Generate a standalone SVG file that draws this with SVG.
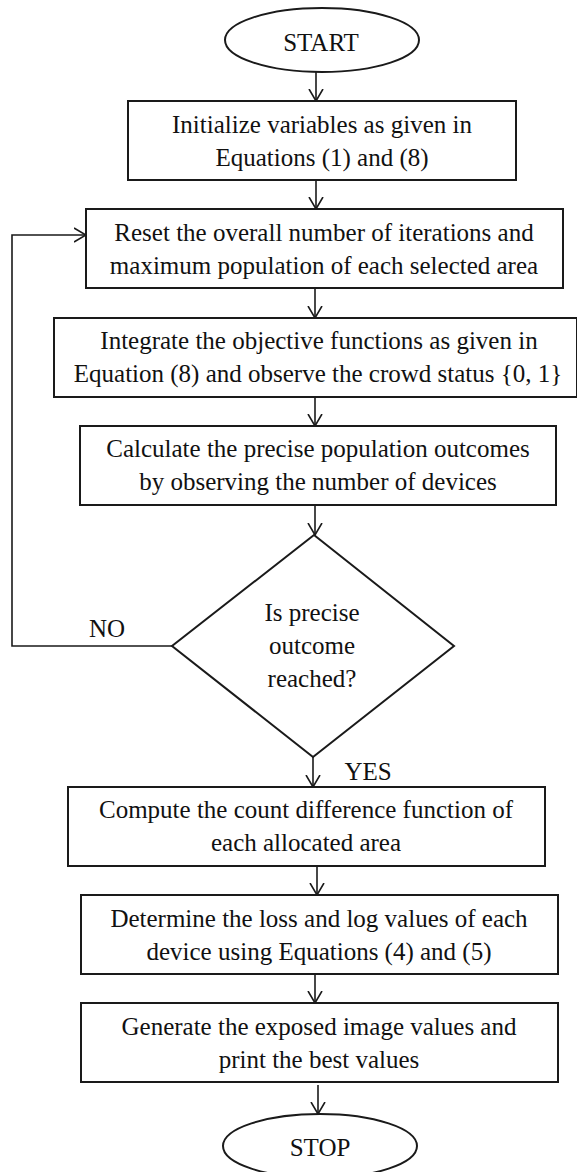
<svg xmlns="http://www.w3.org/2000/svg" width="577" height="1172" viewBox="0 0 577 1172">
<style>
.shape{fill:#fff;stroke:#1a1a1a;stroke-width:2}
.conn{fill:none;stroke:#1a1a1a;stroke-width:1.6}
text{font-family:"Liberation Serif","Times New Roman",serif;font-size:25px;fill:#111;text-anchor:middle}
</style>
<defs>
<marker id="arr" markerUnits="userSpaceOnUse" viewBox="0 0 13 16" refX="12" refY="8" markerWidth="13" markerHeight="16" orient="auto">
<path d="M0,1 L12,8 L0,15" fill="none" stroke="#1a1a1a" stroke-width="1.6"/>
</marker>
</defs>
<rect width="577" height="1172" fill="#fff"/>
<g id="connectors">
<line class="conn" x1="316" y1="72" x2="316" y2="101" marker-end="url(#arr)"/>
<line class="conn" x1="316" y1="180" x2="316" y2="209" marker-end="url(#arr)"/>
<line class="conn" x1="315" y1="288" x2="315" y2="318" marker-end="url(#arr)"/>
<line class="conn" x1="315" y1="397" x2="315" y2="426" marker-end="url(#arr)"/>
<line class="conn" x1="315" y1="505" x2="315" y2="535" marker-end="url(#arr)"/>
<polyline class="conn" points="172,646 12,646 12,235 86,235" marker-end="url(#arr)"/>
<line class="conn" x1="313" y1="757" x2="313" y2="787" marker-end="url(#arr)"/>
<line class="conn" x1="317" y1="866" x2="317" y2="895" marker-end="url(#arr)"/>
<line class="conn" x1="315" y1="974" x2="315" y2="1003" marker-end="url(#arr)"/>
<line class="conn" x1="318" y1="1085" x2="318" y2="1114" marker-end="url(#arr)"/>
<text x="107" y="637">NO</text>
<text x="368" y="780">YES</text>
</g>
<g id="start">
<ellipse class="shape" cx="322" cy="40" rx="97" ry="32"/>
<text x="321" y="51">START</text>
</g>
<g id="init">
<rect class="shape" x="128" y="101" width="388" height="79"/>
<text x="322" y="133">Initialize variables as given in</text>
<text x="322" y="166">Equations (1) and (8)</text>
</g>
<g id="reset">
<rect class="shape" x="86" y="209" width="477" height="79"/>
<text x="324" y="241">Reset the overall number of iterations and</text>
<text x="324" y="274">maximum population of each selected area</text>
</g>
<g id="integrate">
<rect class="shape" x="54" y="318" width="523" height="79"/>
<text x="319" y="349">Integrate the objective functions as given in</text>
<text x="318" y="382">Equation (8) and observe the crowd status {0, 1}</text>
</g>
<g id="calculate">
<rect class="shape" x="80" y="426" width="476" height="79"/>
<text x="318" y="457">Calculate the precise population outcomes</text>
<text x="318" y="490">by observing the number of devices</text>
</g>
<g id="decision">
<polygon class="shape" points="314,535 454,646 313,757 172,646"/>
<text x="312" y="621">Is precise</text>
<text x="312" y="654">outcome</text>
<text x="312" y="687">reached?</text>
</g>
<g id="compute">
<rect class="shape" x="68" y="787" width="477" height="79"/>
<text x="306" y="818">Compute the count difference function of</text>
<text x="306" y="851">each allocated area</text>
</g>
<g id="determine">
<rect class="shape" x="81" y="895" width="477" height="79"/>
<text x="319" y="927">Determine the loss and log values of each</text>
<text x="319" y="960">device using Equations (4) and (5)</text>
</g>
<g id="generate">
<rect class="shape" x="81" y="1003" width="477" height="79"/>
<text x="319" y="1035">Generate the exposed image values and</text>
<text x="319" y="1068">print the best values</text>
</g>
<g id="stop">
<ellipse class="shape" cx="320" cy="1146" rx="97" ry="32"/>
<text x="320" y="1156">STOP</text>
</g>
</svg>
